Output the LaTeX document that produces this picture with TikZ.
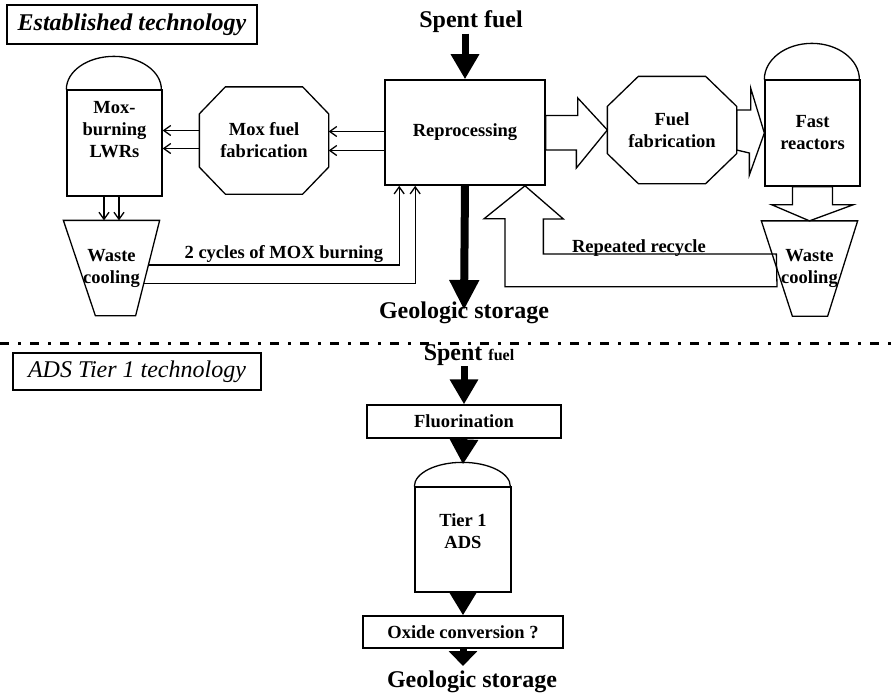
\documentclass[tikz,border=0pt]{standalone}
\usepackage{fontspec}
\setmainfont{Liberation Serif}
\usetikzlibrary{arrows.meta,calc}
\newcommand{\headfont}{\fontsize{24}{28}\selectfont\bfseries}
\newcommand{\lblfont}{\fontsize{18.5}{22}\selectfont\bfseries}

\begin{document}
\begin{tikzpicture}[x=1pt,y=-1pt,line width=1.3pt,
  head/.style={font=\headfont,inner sep=0pt},
  lbl/.style={font=\lblfont,align=center},
  box/.style={draw,rectangle,lbl},
  tower/.style={draw,rectangle,minimum width=95pt,minimum height=106pt,inner sep=0pt,lbl},
  octa/.style={rectangle,minimum width=128pt,minimum height=106pt,inner sep=0pt,lbl},
  cooler/.style={rectangle,minimum width=95pt,minimum height=94pt,inner sep=0pt,lbl},
  feed/.style={line width=7pt,-{Triangle[length=25pt,width=27pt]}},
  flow/.style={-{Straight Barb[length=7pt,width=10pt]}},
  hollow/.style={draw,line join=miter}]
\useasboundingbox (0,0) rectangle (895,697);

% established technology
\node [draw,minimum width=250pt,minimum height=39pt,font=\headfont\itshape] (est) at (132,24.5) {Established technology};
\node [head] (spent) at (471,22) {Spent fuel};
\node [box,minimum width=160pt,minimum height=105pt,line width=1.6pt] (repro) at (465,132.5) {Reprocessing};
\node [octa] (moxfab) at (264,140.5) {Mox fuel\\fabrication};
\node [tower,label={[lbl,yshift=13pt]center:{Mox-\\burning\\LWRs}}] (lwr) at (114.5,143) {};
\node [cooler] (wcl) at (111.5,268) {Waste\\cooling};
\node [octa] (fuelfab) at (672,130) {Fuel\\fabrication};
\node [tower] (fast) at (812.5,133) {Fast\\reactors};
\node [cooler] (wcr) at (809.5,268.5) {Waste\\cooling};
\node [head] (geo) at (464,313) {Geologic storage};

% domes, octagons, coolers
\draw (lwr.north west) arc[start angle=180,end angle=0,x radius=47.5pt,y radius=33pt];
\draw (fast.north west) arc[start angle=180,end angle=0,x radius=47.5pt,y radius=36pt];
\draw ([xshift=26pt]moxfab.north west) -- ([xshift=-26pt]moxfab.north east) -- ([yshift=-27pt]moxfab.north east) -- ([yshift=27pt]moxfab.south east) -- ([xshift=-26pt]moxfab.south east) -- ([xshift=26pt]moxfab.south west) -- ([yshift=27pt]moxfab.south west) -- ([yshift=-27pt]moxfab.north west) -- cycle;
\draw ([xshift=31pt]fuelfab.north west) -- ([xshift=-31pt]fuelfab.north east) -- ([yshift=-30pt]fuelfab.north east) -- ([yshift=30pt]fuelfab.south east) -- ([xshift=-31pt]fuelfab.south east) -- ([xshift=31pt]fuelfab.south west) -- ([yshift=30pt]fuelfab.south west) -- ([yshift=-30pt]fuelfab.north west) -- cycle;
\draw (wcl.north west) -- (wcl.north east) -- ([xshift=-24pt]wcl.south east) -- ([xshift=32pt]wcl.south west) -- cycle;
\draw (wcr.north west) -- (wcr.north east) -- ([xshift=-30pt]wcr.south east) -- ([xshift=31pt]wcr.south west) -- cycle;

% black feeds
\draw [feed] (spent.south -| repro.north) -- (repro.north);
\draw [feed,line width=8pt,-{Triangle[length=30pt,width=28pt]}] (repro.south) -- ([yshift=3pt]geo.center);

% MOX loop
\coordinate (r1) at ([yshift=1pt]repro.west);
\coordinate (r2) at ([yshift=-18pt]repro.west);
\draw [flow] (r1) -- (r1 -| moxfab.east);
\draw [flow] (r2) -- (r2 -| moxfab.east);
\coordinate (m1) at ([yshift=10pt]moxfab.west);
\coordinate (m2) at ([yshift=-8pt]moxfab.west);
\draw [flow] (m1) -- (m1 -| lwr.east);
\draw [flow] (m2) -- (m2 -| lwr.east);
\coordinate (l1) at ([xshift=-10.5pt]lwr.south);
\coordinate (l2) at ([xshift=4.5pt]lwr.south);
\draw [flow] (l1) -- (l1 |- wcl.north);
\draw [flow] (l2) -- (l2 |- wcl.north);
\coordinate (w1) at ($(wcl.north east)!0.47!([xshift=-24pt]wcl.south east)$);
\coordinate (w2) at ($(wcl.north east)!0.66!([xshift=-24pt]wcl.south east)$);
\coordinate (p1) at ([xshift=15pt]repro.south west);
\coordinate (p2) at ([xshift=31pt]repro.south west);
\draw [flow] (w1) -| node[lbl,above=2pt,pos=0.27,inner sep=0pt] {2 cycles of MOX burning} (p1);
\draw [flow] (w2) -| (p2);

% fast reactor loop
\draw [hollow] ([yshift=17pt]repro.east) -- ++(32,0) -- ++(0,-17.5) -- (fuelfab.west) -- ++(-31,38) -- ++(0,-18) -- ([yshift=-17.5pt]repro.east) -- cycle;
\draw [hollow] ([yshift=20pt]fuelfab.east) -- ++(14,0) -- ++(0,-22) -- (fast.west) -- ++(-15,42) -- ++(0,-22) -- ([yshift=-20pt]fuelfab.east) -- cycle;
\draw [hollow] ([xshift=-20pt]fast.south) -- ++(0,18) -- ++(-21,0) -- (wcr.north) -- ([xshift=41pt,yshift=-18pt]fast.south) -- ([xshift=20pt,yshift=-18pt]fast.south) -- ([xshift=20pt]fast.south) -- cycle;
\coordinate (rr) at ([xshift=15pt,yshift=14.5pt]wcr.west);
\draw [hollow] (rr) -- node[lbl,above=-3pt,pos=0.59,inner sep=0pt] {Repeated recycle} ++(-233,0) -- ++(0,-35) -- ++(20,0) -- ([xshift=60pt]repro.south) -- ++(-41,33) -- ++(21,0) -- ++(0,68) -- ++(272,0) -- cycle;

% separator
\coordinate (cutl) at (0,343);
\coordinate (cutr) at (895,343);
\draw [line width=3pt,dash pattern=on 9pt off 9pt on 3pt off 9pt] (cutl) -- (cutr);

% ADS tier 1
\node [draw,minimum width=248pt,minimum height=37pt,font=\fontsize{24}{28}\selectfont\itshape] (adst) at (137,371.5) {ADS Tier 1 technology};
\node [head] (spentb) at (469,355) {Spent {\fontsize{16}{18}\selectfont fuel}};
\node [box,minimum width=194pt,minimum height=33pt,inner sep=0pt] (fluor) at (464,421.5) {Fluorination};
\node [tower,minimum width=96pt,minimum height=105pt,label={[lbl,yshift=8.5pt]center:{Tier 1\\ADS}}] (ads) at (463,539.5) {};
\draw (ads.north west) arc[start angle=180,end angle=0,x radius=48pt,y radius=24pt];
\node [box,minimum width=200pt,minimum height=32pt,inner sep=0pt] (oxide) at (463,632) {Oxide conversion ?};
\node [head] (geob) at (472,682) {Geologic storage};

\coordinate (adstop) at ([yshift=22pt]ads.north);
\coordinate (geotip) at (oxide.south |- 0,666);
\draw [feed] (spentb.south -| fluor.north) -- (fluor.north);
\draw [feed] (fluor.south) -- (adstop);
\draw [feed,-{Triangle[length=24pt,width=27pt]}] (ads.south) -- (oxide.north);
\draw [feed,-{Triangle[length=15pt,width=28pt]}] (oxide.south) -- (geotip);
\end{tikzpicture}
\end{document}
